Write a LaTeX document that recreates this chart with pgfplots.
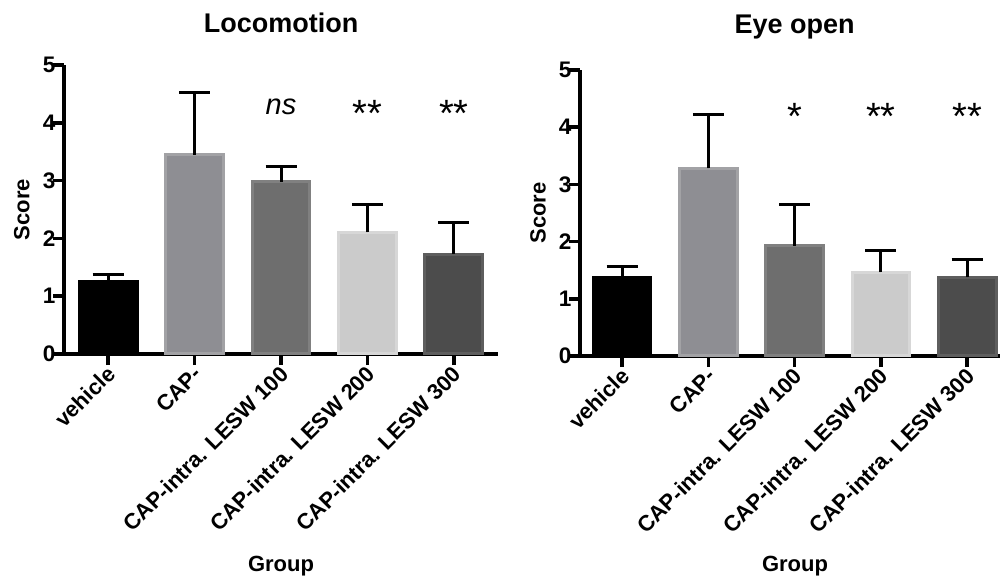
\documentclass[border=0pt]{standalone}
\usepackage{pgfplots}
\pgfplotsset{compat=1.18}
\usepackage{fontspec}
\setmainfont{Liberation Sans}
\definecolor{cA}{HTML}{000000}
\definecolor{cAd}{HTML}{000000}
\definecolor{cB}{HTML}{8E8E93}
\definecolor{cBd}{HTML}{A2A2A5}
\definecolor{cC}{HTML}{6E6E6E}
\definecolor{cCd}{HTML}{808080}
\definecolor{cD}{HTML}{CBCBCB}
\definecolor{cDd}{HTML}{D7D7D7}
\definecolor{cE}{HTML}{4C4C4C}
\definecolor{cEd}{HTML}{5E5E5E}
\pgfplotsset{
  panel/.style={
    scale only axis, anchor=south west,
    axis lines=left, axis line style={line width=4pt, -},
    ymin=0, ymax=5, ytick={0,1,2,3,4,5},
    xtick={0,1,2,3,4},
    xticklabels={vehicle, CAP-, CAP-intra. LESW 100, CAP-intra. LESW 200, CAP-intra. LESW 300},
    x tick label style={rotate=45, anchor=east, font=\bfseries\fontsize{22}{22}\selectfont, xshift=2pt, yshift=-6pt},
    y tick label style={font=\bfseries\fontsize{22.5}{22.5}\selectfont, xshift=6pt},
    /pgf/number format/assume math mode=true,
    tick align=outside, major tick length=11pt,
    tick style={line width=3.5pt, black},
    ylabel={Score}, xlabel={Group},
    label style={font=\bfseries\fontsize{22}{22}\selectfont},
    title style={font=\bfseries\fontsize{27}{27}\selectfont, anchor=base},
    ybar, bar width=0.67,
    error bars/y dir=plus, error bars/y explicit,
    error bars/error bar style={line width=3pt, black},
    error bars/error mark options={rotate=90, mark size=15.5pt, line width=3pt, black},
    clip=false,
  }
}
\begin{document}
\begin{tikzpicture}[x=1pt,y=1pt]
\useasboundingbox (0,0) rectangle (1000,575);
\begin{axis}[panel, at={(64pt,221pt)}, width=434pt, height=289pt,
  xmin=-0.51, xmax=4.51,
  title={Locomotion}, title style={at={(0.5,1)}, yshift=27pt},
  ylabel style={at={(axis description cs:-0.097,0.5)}, anchor=center},
  xlabel style={at={(axis description cs:0.5,-0.733)}, anchor=center}]
\addplot[bar shift=0pt, fill=cA, draw=cAd, line width=3pt] coordinates {(0,1.246) +- (0,0.138)};
\addplot[bar shift=0pt, fill=cB, draw=cBd, line width=3pt] coordinates {(1,3.443) +- (0,1.085)};
\addplot[bar shift=0pt, fill=cC, draw=cCd, line width=3pt] coordinates {(2,2.981) +- (0,0.259)};
\addplot[bar shift=0pt, fill=cD, draw=cDd, line width=3pt] coordinates {(3,2.106) +- (0,0.489)};
\addplot[bar shift=0pt, fill=cE, draw=cEd, line width=3pt] coordinates {(4,1.730) +- (0,0.542)};
\node[anchor=base, font=\itshape\fontsize{29}{29}\selectfont] at (axis cs:2,4.15) {ns};
\node[anchor=base, font=\fontsize{38}{38}\selectfont] at (axis cs:3,3.93) {**};
\node[anchor=base, font=\fontsize{38}{38}\selectfont] at (axis cs:4,3.93) {**};
\end{axis}
\begin{axis}[panel, at={(580pt,219pt)}, width=420pt, height=286pt,
  xmin=-0.487, xmax=4.38,
  title={Eye open}, title style={at={(0.511,1)}, yshift=30pt},
  ylabel style={at={(axis description cs:-0.1,0.5)}, anchor=center},
  xlabel style={at={(axis description cs:0.512,-0.734)}, anchor=center}]
\addplot[bar shift=0pt, fill=cA, draw=cAd, line width=3pt] coordinates {(0,1.376) +- (0,0.197)};
\addplot[bar shift=0pt, fill=cB, draw=cBd, line width=3pt] coordinates {(1,3.281) +- (0,0.945)};
\addplot[bar shift=0pt, fill=cC, draw=cCd, line width=3pt] coordinates {(2,1.928) +- (0,0.724)};
\addplot[bar shift=0pt, fill=cD, draw=cDd, line width=3pt] coordinates {(3,1.463) +- (0,0.378)};
\addplot[bar shift=0pt, fill=cE, draw=cEd, line width=3pt] coordinates {(4,1.376) +- (0,0.314)};
\node[anchor=base, font=\fontsize{38}{38}\selectfont] at (axis cs:2,3.96) {*};
\node[anchor=base, font=\fontsize{38}{38}\selectfont] at (axis cs:3,3.96) {**};
\node[anchor=base, font=\fontsize{38}{38}\selectfont] at (axis cs:4,3.96) {**};
\end{axis}
\end{tikzpicture}
\end{document}
